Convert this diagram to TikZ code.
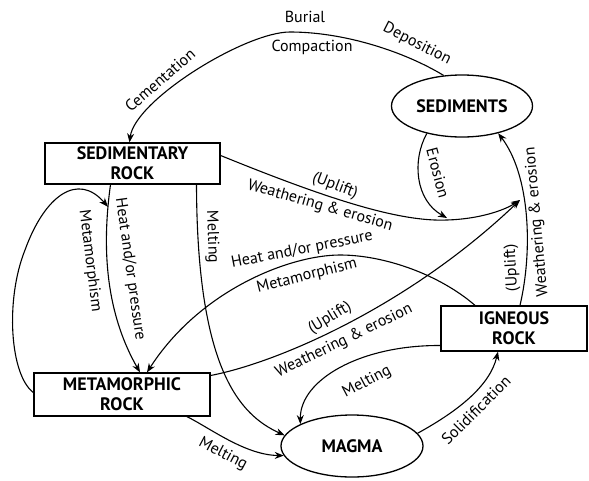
\documentclass[tikz,border=0pt]{standalone}
\usepackage{fontspec}
\setmainfont{PT Sans}
\usetikzlibrary{arrows.meta,shapes.geometric}

\begin{document}
\begin{tikzpicture}[x=1pt,y=-1pt]
		\tikzstyle{rock}=[draw,
			line width=1.3pt,
			inner sep=0pt,
			align=center,
			font=\bfseries\fontsize{18}{20}\selectfont,
			];
		\tikzstyle{blob}=[rock,
			ellipse,
			];
		\tikzstyle{flow}=[line width=1.1pt,
			-{Stealth[length=9pt,width=7pt]},
			];
		\tikzstyle{lbl}=[inner sep=0pt,
			font=\fontsize{16}{18}\selectfont,
			];

		\useasboundingbox (0,0) rectangle (589,480);

		\node [rock] (sedrock) at (132.5,163.5) [minimum width=175pt,minimum height=41pt] {SEDIMENTARY\\ROCK};
		\node [rock] (metrock) at (122,394.5) [minimum width=176pt,minimum height=43pt] {METAMORPHIC\\ROCK};
		\node [rock] (ignrock) at (514,328.5) [minimum width=146pt,minimum height=45pt] {IGNEOUS\\ROCK};
		\node [blob] (sed) at (462,106) [minimum width=141pt,minimum height=62pt] {SEDIMENTS};
		\node [blob] (magma) at (352,446) [minimum width=142pt,minimum height=62pt] {MAGMA};
		\coordinate (wj) at (520,200);

		\draw [flow] (sed.121) .. controls (405,52) and (345,32) .. (290,32)
			.. controls (245,32) and (135,100) .. ([xshift=-3pt]sedrock.north);
		\node [lbl] (burial) at (305,17) {Burial};
		\node [lbl] (compaction) at (312,47) {Compaction};
		\node [lbl,rotate=-27] (deposition) at (417,44) {Deposition};
		\node [lbl,rotate=41] (cementation) at (160,80) {Cementation};

		\draw [flow] ([yshift=8pt]sedrock.east) .. controls (330,200) and (400,222) .. (447,220) coordinate (ej)
			.. controls (480,219) and (505,210) .. (wj);
		\node [lbl,rotate=-21] (upliftA) at (335,186) {(Uplift)};
		\node [lbl,rotate=-16] (weatherA) at (320,206) {Weathering \& erosion};

		\draw [flow] (sed.218) .. controls (412,160) and (415,200) .. ([yshift=2pt]ej);
		\node [lbl,rotate=-75] (erosion) at (438,173) {Erosion};

		\draw [flow] ([yshift=19pt]metrock.east) .. controls (280,362) and (410,305) .. (wj);
		\node [lbl,rotate=31] (upliftB) at (330,318) {(Uplift)};
		\node [lbl,rotate=26] (weatherB) at (344,341) {Weathering \& erosion};

		\draw [flow] ([xshift=6pt]ignrock.north) .. controls (533,250) and (530,175) .. (sed.323);
		\node [lbl,rotate=93] (upliftC) at (512,268) {(Uplift)};
		\node [lbl,rotate=95] (weatherC) at (537,222) {Weathering \& erosion};

		\draw [flow] ([xshift=-22pt]sedrock.south) .. controls (100,260) and (110,320) .. ([xshift=18pt]metrock.north)
			coordinate [pos=0.1] (hp);
		\node [lbl,rotate=-82] (heatA) at (130,269) {Heat and/or pressure};

		\draw [flow] ([yshift=2pt]metrock.west) .. controls (10,375) and (5,300) .. (25,250)
			.. controls (45,195) and (78,172) .. (hp);
		\node [lbl,rotate=-83] (metamA) at (90,261) {Metamorphism};

		\draw [flow] ([xshift=64pt]sedrock.south) .. controls (197,370) and (240,415) .. (magma.171);
		\node [lbl,rotate=-88] (meltA) at (212,237) {Melting};

		\draw [flow] ([xshift=-39pt]ignrock.north) .. controls (440,275) and (385,255) .. (340,255)
			.. controls (290,255) and (200,290) .. ([xshift=25pt]metrock.north);
		\node [lbl,rotate=11] (heatB) at (302,250) {Heat and/or pressure};
		\node [lbl,rotate=14] (metamB) at (307,276) {Metamorphism};

		\draw [flow] ([yshift=-17pt]ignrock.west) .. controls (360,345) and (300,380) .. (magma.157);
		\node [lbl,rotate=28] (meltB) at (367,382) {Melting};

		\draw [flow] (magma.11) .. controls (460,410) and (490,385) .. ([xshift=-16pt]ignrock.south);
		\node [lbl,rotate=45] (solid) at (476,410) {Solidification};

		\draw [flow] ([xshift=65pt]metrock.south) .. controls (210,428) and (245,455) .. (magma.188);
		\node [lbl,rotate=-28] (meltC) at (223,454) {Melting};
	\end{tikzpicture}
\end{document}
